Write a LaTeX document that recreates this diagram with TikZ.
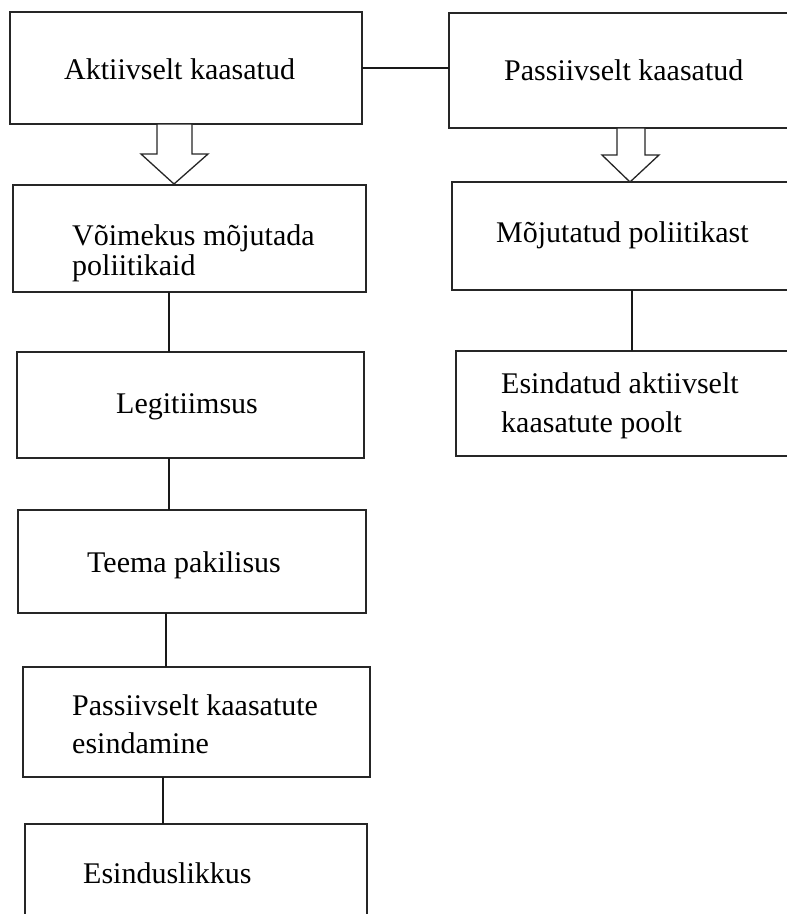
\documentclass[tikz,border=0pt]{standalone}
\usepackage{fontspec}
\setmainfont{Liberation Serif}
\begin{document}
\begin{tikzpicture}[x=1pt,y=-1pt,
  box/.style={draw=black!85,line width=1.4pt,anchor=north west,inner sep=0pt,outer sep=0pt},
  lbl/.style={anchor=base west,inner sep=0pt,font=\fontsize{30}{32}\selectfont},
  conn/.style={draw=black!90,line width=1.3pt},
  blockarrow/.style={draw=black!85,line width=1.3pt,fill=white,line join=miter}]
\useasboundingbox (0,0) rectangle (787,914);
\clip (0,0) rectangle (787,914);
% left column boxes
\node[box,minimum width=352pt,minimum height=112pt] (b1) at (10,12) {};
\node[box,minimum width=353pt,minimum height=107pt] (b2) at (13,185) {};
\node[box,minimum width=347pt,minimum height=106pt] (b3) at (17,352) {};
\node[box,minimum width=348pt,minimum height=103pt] (b4) at (18,510) {};
\node[box,minimum width=347pt,minimum height=110pt] (b5) at (23,667) {};
\node[box,minimum width=342pt,minimum height=116pt] (b6) at (25,824) {};
% right column boxes
\node[box,minimum width=351pt,minimum height=115pt] (p1) at (449,13) {};
\node[box,minimum width=348pt,minimum height=108pt] (p2) at (452,182) {};
\node[box,minimum width=344pt,minimum height=105pt] (p3) at (456,351) {};
% texts
\node[lbl] (t1) at (64,79) {Aktiivselt kaasatud};
\node[lbl] (t2a) at (72,245) {Võimekus mõjutada};
\node[lbl] (t2b) at (72,275) {poliitikaid};
\node[lbl] (t3) at (116,413) {Legitiimsus};
\node[lbl] (t4) at (87,572) {Teema pakilisus};
\node[lbl] (t5a) at (72,715) {Passiivselt kaasatute};
\node[lbl] (t5b) at (72,753) {esindamine};
\node[lbl] (t6) at (83,883) {Esinduslikkus};
\node[lbl] (tp1) at (504,80) {Passiivselt kaasatud};
\node[lbl] (tp2) at (496,242) {Mõjutatud poliitikast};
\node[lbl] (tp3a) at (501,393) {Esindatud aktiivselt};
\node[lbl] (tp3b) at (501,432) {kaasatute poolt};
% connector x positions
\coordinate (x169) at (169,0);
\coordinate (x166) at (166,0);
\coordinate (x163) at (163,0);
\coordinate (x632) at (632,0);
% connectors
\draw[conn] (b1.east) -- (b1.east -| p1.west);
\draw[conn] (b2.south -| x169) -- (b3.north -| x169);
\draw[conn] (b3.south -| x169) -- (b4.north -| x169);
\draw[conn] (b4.south -| x166) -- (b5.north -| x166);
\draw[conn] (b5.south -| x163) -- (b6.north -| x163);
\draw[conn] (p2.south -| x632) -- (p3.north -| x632);
% block arrows
\draw[blockarrow] (157,124) -- (157,154) -- (141,154) -- (174,184) -- (208,154) -- (192,154) -- (192,124) -- cycle;
\draw[blockarrow] (617,128) -- (617,155) -- (602,155) -- (630,182) -- (659,155) -- (645,155) -- (645,128) -- cycle;
\end{tikzpicture}
\end{document}
